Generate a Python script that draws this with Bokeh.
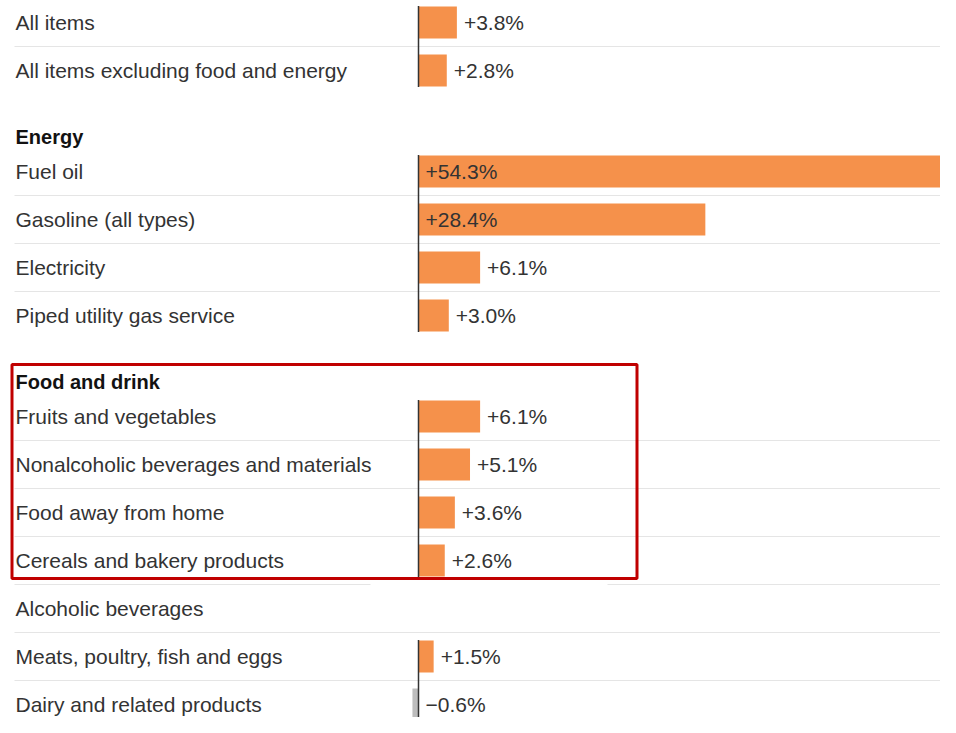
from bokeh.plotting import figure
from bokeh.models import Range1d
from bokeh.core.properties import value
from bokeh.embed import file_html
from bokeh.resources import INLINE

# ---- data ----
group_headers = ["", "Energy", "Food and drink"]
top_categories = ["All items", "All items excluding food and energy"]
top_values = [3.8, 2.8]
energy_categories = ["Fuel oil", "Gasoline (all types)", "Electricity", "Piped utility gas service"]
energy_values = [54.3, 28.4, 6.1, 3.0]
food_categories = ["Fruits and vegetables", "Nonalcoholic beverages and materials",
                   "Food away from home", "Cereals and bakery products",
                   "Alcoholic beverages", "Meats, poultry, fish and eggs",
                   "Dairy and related products"]
food_values = [6.1, 5.1, 3.6, 2.6, None, 1.5, -0.6]
highlighted_group = "Food and drink"
highlighted_rows = 4

groups = [(group_headers[0], top_categories, top_values),
          (group_headers[1], energy_categories, energy_values),
          (group_headers[2], food_categories, food_values)]

# ---- layout ----
W, H = 940, 717
PX_PER_PCT = 10.1
ZERO_PX = 418          # pixel position of the zero line inside the figure
PITCH = 48.0
HEADER_GAP = 66.0
HEADER_TO_ROW = 35.0
BAR_H = 32
INSIDE_MIN = 20
FIRST_ROW = 22.0

def px(x):
    """figure-pixel x -> data x"""
    return (x - ZERO_PX) / PX_PER_PCT

FONT = "Liberation Sans"
TXT = "#333333"
ORANGE = "#F5914B"
GREY = "#BDBDBD"

p = figure(width=W, height=H, output_backend="svg", toolbar_location=None,
           x_range=Range1d(-ZERO_PX / PX_PER_PCT, (W - ZERO_PX) / PX_PER_PCT),
           y_range=Range1d(H, 0), min_border=0)
p.axis.visible = False
p.grid.visible = False
p.outline_line_color = None
p.background_fill_color = "white"
p.border_fill_color = "white"

rows_y, rows_cat, rows_val = [], [], []
head_y, head_txt = [], []
sep_y = []
axis_runs = []
group_rows = {}
y = FIRST_ROW
prev_last = None
for header, cats, vals in groups:
    if header:
        hy = prev_last + HEADER_GAP
        head_y.append(hy)
        head_txt.append(header)
        y = hy + HEADER_TO_ROW
    run = []
    group_rows[header] = []
    for i, (c, v) in enumerate(zip(cats, vals)):
        rows_y.append(y)
        rows_cat.append(c)
        rows_val.append(v)
        group_rows[header].append(y)
        if v is None:
            if run:
                axis_runs.append(run)
            run = []
        else:
            run.append(y)
        if i < len(cats) - 1:
            sep_y.append(y + PITCH / 2)
        prev_last = y
        y += PITCH
    if run:
        axis_runs.append(run)

# separators
p.segment(x0=[px(14)] * len(sep_y), x1=[px(1000)] * len(sep_y), y0=sep_y, y1=sep_y,
          line_color="#E5E5E5", line_width=1.2)

# patch hiding the bar of the row without value (as in the reference screenshot)
for yy, v in zip(rows_y, rows_val):
    if v is None:
        p.quad(left=[px(370)], right=[px(607)], top=[yy - PITCH / 2 - 1.5],
               bottom=[yy + PITCH / 2 - 2], fill_color="white", line_color=None)

# bars
by, bl, br, bc = [], [], [], []
for yy, v in zip(rows_y, rows_val):
    if v is None:
        continue
    by.append(yy)
    bl.append(min(0, v))
    br.append(max(0, v))
    bc.append(ORANGE if v >= 0 else GREY)
p.hbar(y=by, left=bl, right=br, height=BAR_H, fill_color=bc, line_color=None)

# zero line segments
for run in axis_runs:
    p.segment(x0=[0], x1=[0], y0=[run[0] - BAR_H / 2 - 0.5], y1=[run[-1] + BAR_H / 2 + 0.5],
              line_color="#333333", line_width=1.5)

# category labels
p.text(x=[px(15)] * len(rows_y), y=rows_y, text=rows_cat,
       text_font=value(FONT), text_font_size="21px", text_color=TXT,
       text_align="left", text_baseline="middle")

# headers
p.text(x=[px(15)] * len(head_y), y=head_y, text=head_txt,
       text_font=value(FONT), text_font_size="20px", text_font_style="bold",
       text_color="#121212", text_align="left", text_baseline="middle")

# value labels
lx, ly, lt = [], [], []
for yy, v in zip(rows_y, rows_val):
    if v is None:
        continue
    lx.append(0 if (v >= INSIDE_MIN or v < 0) else v)
    ly.append(yy)
    lt.append(("+" if v >= 0 else "\u2212") + f"{abs(v):.1f}%")
p.text(x=lx, y=ly, text=lt, x_offset=7,
       text_font=value(FONT), text_font_size="21px", text_color=TXT,
       text_align="left", text_baseline="middle")

# highlight box around the header and first rows of the food group
hl_header_y = head_y[head_txt.index(highlighted_group)]
hl_last_y = group_rows[highlighted_group][highlighted_rows - 1]
p.quad(left=[px(11.5)], right=[px(636.5)], top=[hl_header_y - 17], bottom=[hl_last_y + 18],
       fill_alpha=0, line_color="#C00000", line_width=3)

open("out.html", "w").write(file_html(p, INLINE))
